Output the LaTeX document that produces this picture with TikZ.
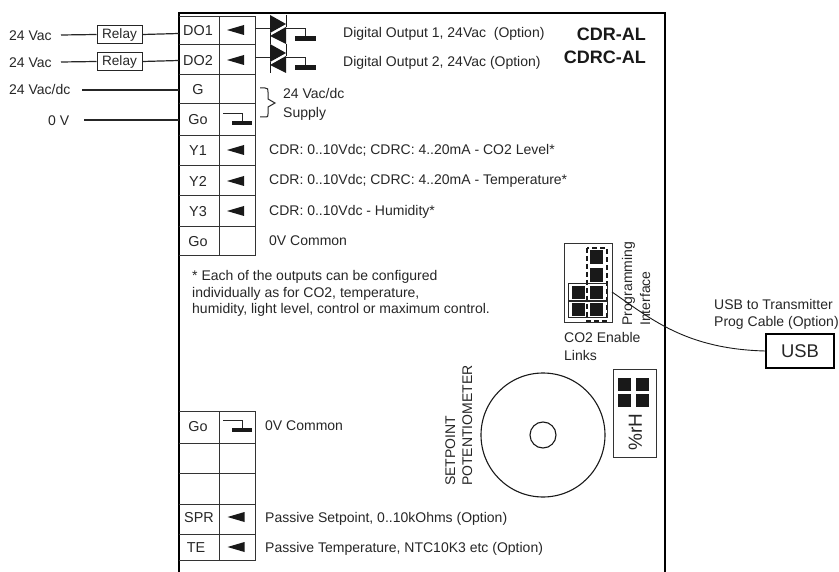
\documentclass[tikz,border=0pt]{standalone}
\usepackage{fontspec}
\setmainfont{Liberation Sans}
\tikzset{
  lbl/.style={inner sep=0pt,anchor=west,font=\fontsize{14}{16}\selectfont,text=black!85,text height=10pt,text depth=0pt},
  rotlbl/.style={lbl,rotate=90},
  term/.style={inner sep=0pt,font=\fontsize{14.4}{16}\selectfont,text=black!85,text height=10.4pt,text depth=0pt},
  wire/.style={draw=black!85,line width=1.2pt},
  grid/.style={draw=black!80,line width=1pt},
  frame/.style={draw=black,line width=1.8pt},
  relaybox/.style={draw=black!85,line width=1pt,minimum width=45pt,minimum height=18pt,inner sep=0pt,font=\fontsize{13.6}{15}\selectfont,text=black!85},
  titlelbl/.style={inner sep=0pt,anchor=east,font=\bfseries\fontsize{18}{20}\selectfont,text=black!90,text height=13pt,text depth=0pt},
  blk/.style={fill=black!90,draw=none},
}
\newcommand{\arrowmark}[2]{\fill[black!90] (#1-9,#2) -- (#1+8,#2-5) -- (#1+8,#2+5) -- cycle;}
\newcommand{\gndmark}[2]{%
  \draw[black!85,line width=0.8pt] (#1-17,#2-6) -- (#1+2,#2-6) -- (#1+2,#2+3);
  \fill[black!90] (#1-8,#2+2) rectangle (#1+12,#2+6);}
\newcommand{\triacmark}[2]{%
  \draw[black!85,line width=1pt] (#1-15,#2) -- (#1,#2);
  \draw[black!85,line width=1pt] (#1+16,#2) -- (#1+35,#2) -- (#1+35,#2+7);
  \fill[black!90] (#1,#2-14) -- (#1,#2+4) -- (#1+16,#2-5) -- cycle;
  \fill[black!90] (#1+16,#2-2) -- (#1+16,#2+15) -- (#1,#2+7) -- cycle;
  \draw[black!90,line width=1pt] (#1+16,#2-14) -- (#1+16,#2-2);
  \draw[black!90,line width=1pt] (#1,#2+4) -- (#1,#2+15);
  \fill[black!90] (#1+25,#2+7) rectangle (#1+46,#2+12);}
\begin{document}
\begin{tikzpicture}[x=1pt,y=-1pt]
\useasboundingbox (0,0) rectangle (839,572);
% outer frame
\draw[frame] (179,572) -- (179,13) -- (665,13) -- (665,572);
% upper terminal block
\draw[grid] (179,17) -- (255,17) -- (255,256) -- (179,256);
\draw[grid] (219,17) -- (219,256);
\foreach \yy in {45,75,104,136,166,196,227} \draw[grid] (179,\yy) -- (255,\yy);
% terminal labels
\node[term] (do1) at (198,30) {DO1};
\node[term] (do2) at (198,60) {DO2};
\node[term] (g) at (198,89.5) {G};
\node[term] (go1) at (198,119.5) {Go};
\node[term] (y1) at (198,150) {Y1};
\node[term] (y2) at (198,181) {Y2};
\node[term] (y3) at (198,211) {Y3};
\node[term] (go2) at (198,241) {Go};
\arrowmark{236}{30}
\arrowmark{236}{60}
\arrowmark{236}{150}
\arrowmark{236}{181}
\arrowmark{236}{211}
\gndmark{240}{119}
% left wiring
\node[relaybox] (r1) at (119.5,34.5) {Relay};
\node[relaybox] (r2) at (119.5,61.5) {Relay};
\node[lbl] (v1) at (9,36) {24 Vac};
\node[lbl] (v2) at (9,63) {24 Vac};
\node[lbl] (v3) at (9,90) {24 Vac/dc};
\node[lbl] (v4) at (48,121) {0 V};
\coordinate (e1) at (179,33.5);
\coordinate (e2) at (179,60.5);
\coordinate (e3) at (179,90);
\coordinate (e4) at (179,120);
\coordinate (s1) at (61,35);
\coordinate (s2) at (61,62);
\coordinate (s3) at (82,90);
\coordinate (s4) at (84,120);
\draw[wire] (s1) -- (r1.west);
\draw[wire] (r1.east) -- (e1);
\draw[wire] (s2) -- (r2.west);
\draw[wire] (r2.east) -- (e2);
\draw[wire] (s3) -- (e3);
\draw[wire] (s4) -- (e4);
% triacs
\triacmark{270}{29}
\triacmark{270}{58}
% brace
\draw[black!85,line width=1pt] (260,88) -- (265,88) .. controls (268,88) and (268,89) .. (268,92) -- (268,99) -- (275,103) -- (268,107) -- (268,114) .. controls (268,117) and (268,117) .. (265,117) -- (260,117);
% descriptions
\node[lbl] at (343,33) {Digital Output 1, 24Vac\ \ (Option)};
\node[lbl] at (343,62) {Digital Output 2, 24Vac (Option)};
\node[titlelbl] at (646,34) {CDR-AL};
\node[titlelbl] at (646,57) {CDRC-AL};
\node[lbl] at (283,94) {24 Vac/dc};
\node[lbl] at (283,113) {Supply};
\node[lbl] at (269,150) {CDR: 0..10Vdc; CDRC: 4..20mA - CO2 Level*};
\node[lbl] at (269,180) {CDR: 0..10Vdc; CDRC: 4..20mA - Temperature*};
\node[lbl] at (269,211) {CDR: 0..10Vdc - Humidity*};
\node[lbl] at (269,241) {0V Common};
\node[lbl] at (192,276) {* Each of the outputs can be configured};
\node[lbl] at (192,293) {individually as for CO2, temperature,};
\node[lbl] at (192,309) {humidity, light level, control or maximum control.};
% lower terminal block
\draw[grid] (179,411) -- (255,411) -- (255,560) -- (179,560);
\draw[grid] (219,411) -- (219,560);
\foreach \yy in {443,473,504,534} \draw[grid] (179,\yy) -- (255,\yy);
\node[term] (go3) at (198,426.5) {Go};
\node[term] (spr) at (199,517.5) {SPR};
\node[term] (te) at (196,547) {TE};
\gndmark{240}{426}
\arrowmark{236.5}{517}
\arrowmark{236.5}{547}
\node[lbl] at (265,426) {0V Common};
\node[lbl] at (265,517) {Passive Setpoint, 0..10kOhms (Option)};
\node[lbl] at (265,547) {Passive Temperature, NTC10K3 etc (Option)};
% programming block
\draw[grid] (564,244) rectangle (612,323);
\draw[black!90,line width=1.3pt,dash pattern=on 5pt off 3pt] (587,248) rectangle (607,321);
\fill[blk] (590,250) rectangle (603,264);
\fill[blk] (590,268) rectangle (603,282);
\draw[black!85,line width=1pt] (568,284) rectangle (607,300.5);
\draw[black!85,line width=1pt] (568,301.5) rectangle (607,318);
\foreach \xx in {572,590} \foreach \yy in {286,303} \fill[blk] (\xx,\yy) rectangle +(13,13);
\node[rotlbl] at (627,326) {Programming};
\node[rotlbl] at (645,326) {Interface};
\node[lbl] at (564,338) {CO2 Enable};
\node[lbl] at (564,355) {Links};
% USB
\node[draw=black,line width=1.6pt,minimum width=68pt,minimum height=34pt,inner sep=0pt,font=\fontsize{18.4}{20}\selectfont,text=black!85] (usb) at (800,351) {USB};
\coordinate (cs) at (612,292);
\draw[black!90,line width=0.9pt] (cs) .. controls (650,318) and (685,349) .. (usb.west);
\node[lbl] at (714,305) {USB to Transmitter};
\node[lbl] at (714,322) {Prog Cable (Option)};
% potentiometer
\node[draw=black!90,line width=1.1pt,circle,minimum size=124pt,inner sep=0pt] (pot) at (543,435) {};
\node[draw=black!90,line width=1.1pt,circle,minimum size=26pt,inner sep=0pt] (knob) at (543,435) {};
\node[rotlbl] at (450,486) {SETPOINT};
\node[rotlbl] at (467,486) {POTENTIOMETER};
% rH
\draw[grid] (613,370) rectangle (656,457);
\foreach \xx in {618,636} \foreach \yy in {378,394} \fill[blk] (\xx,\yy) rectangle +(13,13);
\node[inner sep=0pt,rotate=90,font=\fontsize{19}{21}\selectfont,text=black!85,text height=13.6pt,text depth=0pt] (rh) at (635,432) {\%rH};
\end{tikzpicture}
\end{document}
